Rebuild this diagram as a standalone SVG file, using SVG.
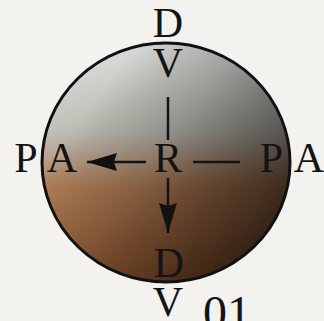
<svg xmlns="http://www.w3.org/2000/svg" width="324" height="321" viewBox="0 0 324 321">
  <defs>
    <linearGradient id="hue" x1="0" y1="0" x2="0" y2="1">
      <stop offset="0" stop-color="#d2d6d2"/>
      <stop offset="0.38" stop-color="#b4b2aa"/>
      <stop offset="0.6" stop-color="#ac7850"/>
      <stop offset="1" stop-color="#9c5e34"/>
    </linearGradient>
    <linearGradient id="shade" x1="0.2" y1="0.25" x2="1" y2="0.8">
      <stop offset="0" stop-color="#000" stop-opacity="0"/>
      <stop offset="0.35" stop-color="#000" stop-opacity="0.22"/>
      <stop offset="1" stop-color="#000" stop-opacity="0.74"/>
    </linearGradient>
    <linearGradient id="light" x1="0" y1="0" x2="0.6" y2="0.6">
      <stop offset="0" stop-color="#fff" stop-opacity="0.35"/>
      <stop offset="0.5" stop-color="#fff" stop-opacity="0.05"/>
      <stop offset="1" stop-color="#fff" stop-opacity="0"/>
    </linearGradient>
    <marker id="head" viewBox="0 -10 30 20" refX="30" refY="0" markerWidth="30" markerHeight="20" markerUnits="userSpaceOnUse" orient="auto">
      <path d="M0,-9 L30,0 L0,9 L3,0 z" fill="#111"/>
    </marker>
    <style>
      text { font-family: "Liberation Serif", "Times New Roman", serif; font-size: 42px; fill: #141414; text-anchor: middle; }
      text.big { font-size: 48px; }
      .line { stroke: #141414; stroke-width: 2.5; fill: none; }
    </style>
  </defs>
  <rect width="324" height="321" fill="#f3f2ee"/>
  <g id="sphere">
    <ellipse cx="166" cy="162.5" rx="124" ry="119.5" fill="url(#hue)"/>
    <ellipse cx="166" cy="162.5" rx="124" ry="119.5" fill="url(#shade)"/>
    <ellipse cx="166" cy="162.5" rx="124" ry="119.5" fill="url(#light)"/>
    <ellipse cx="166" cy="162.5" rx="124" ry="119.5" fill="none" stroke="#111" stroke-width="3"/>
  </g>
  <g id="connectors">
    <line class="line" x1="168" y1="97" x2="168" y2="140"/>
    <line class="line" x1="168" y1="178" x2="168" y2="233" marker-end="url(#head)"/>
    <line class="line" x1="146" y1="162" x2="87" y2="162" marker-end="url(#head)"/>
    <line class="line" x1="193" y1="162" x2="240" y2="162"/>
  </g>
  <g id="node-top">
    <text x="168" y="37">D</text>
    <text x="168" y="77">V</text>
  </g>
  <g id="node-center"><text x="168" y="172">R</text></g>
  <g id="node-left">
    <text x="26" y="172">P</text>
    <text x="62" y="172">A</text>
  </g>
  <g id="node-right">
    <text x="271.5" y="172">P</text>
    <text x="309" y="172">A</text>
  </g>
  <g id="node-bottom">
    <text x="169" y="277">D</text>
    <text x="168" y="316">V</text>
  </g>
  <g id="label-01"><text class="big" x="227" y="329">01</text></g>
</svg>
